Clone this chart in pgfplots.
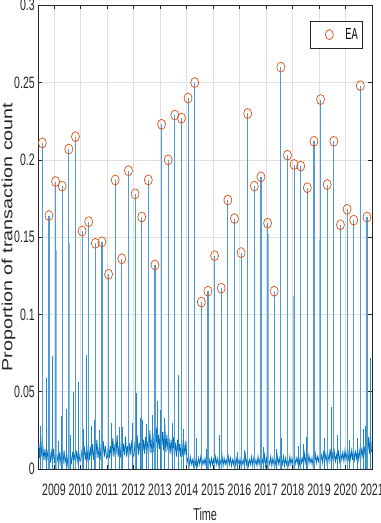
\documentclass[border=0pt]{standalone}
\usepackage{fontspec}
\setmainfont{Liberation Sans}
\newfontfamily\tickfont[FakeStretch=0.64]{Liberation Sans}
\newfontfamily\labfont[FakeStretch=0.63]{Liberation Sans}
\newfontfamily\ylfont[FakeStretch=1.335]{Liberation Sans}
\newfontfamily\legfont[FakeStretch=0.58]{Liberation Sans}
\usepackage{pgfplots}
\usepackage{pgfplotstable}
\pgfplotsset{compat=1.18}
\definecolor{mblue}{rgb}{0,0.447,0.741}
\definecolor{spkblue}{RGB}{80,156,212}
\definecolor{morange}{rgb}{0.85,0.325,0.098}
\definecolor{axgray}{rgb}{0.15,0.15,0.15}
\definecolor{gridgray}{RGB}{223,223,223}
\newcommand\tickf{\tickfont\fontsize{16.5bp}{18bp}\selectfont}

% daily share, coarse reading of the noisy base
\pgfplotstableread[row sep=\\]{
t v\\
2008.42 0.016\\ 2008.46 0.007\\ 2008.50 0.022\\ 2008.54 0.008\\ 2008.58 0.015\\ 2008.62 0.006\\ 2008.66 0.013\\ 2008.70 0.005\\
2008.74 0.012\\ 2008.78 0.005\\ 2008.82 0.014\\ 2008.86 0.004\\ 2008.90 0.011\\ 2008.94 0.005\\ 2008.98 0.013\\
2009.02 0.004\\ 2009.06 0.010\\ 2009.10 0.004\\ 2009.14 0.008\\ 2009.18 0.003\\ 2009.22 0.011\\ 2009.26 0.004\\ 2009.30 0.009\\
2009.34 0.003\\ 2009.38 0.012\\ 2009.42 0.004\\ 2009.46 0.008\\ 2009.50 0.003\\ 2009.54 0.010\\ 2009.58 0.004\\ 2009.62 0.009\\
2009.66 0.003\\ 2009.70 0.011\\ 2009.74 0.005\\ 2009.78 0.009\\ 2009.82 0.004\\ 2009.86 0.012\\ 2009.90 0.005\\ 2009.94 0.010\\ 2009.98 0.005\\
2010.02 0.006\\ 2010.06 0.013\\ 2010.10 0.005\\ 2010.14 0.015\\ 2010.18 0.006\\ 2010.22 0.012\\ 2010.26 0.007\\ 2010.30 0.017\\
2010.34 0.006\\ 2010.38 0.013\\ 2010.42 0.007\\ 2010.46 0.016\\ 2010.50 0.006\\ 2010.54 0.014\\ 2010.58 0.007\\ 2010.62 0.019\\
2010.66 0.007\\ 2010.70 0.013\\ 2010.74 0.006\\ 2010.78 0.016\\ 2010.82 0.007\\ 2010.86 0.018\\ 2010.90 0.008\\ 2010.94 0.015\\ 2010.98 0.007\\
2011.02 0.008\\ 2011.06 0.017\\ 2011.10 0.007\\ 2011.14 0.015\\ 2011.18 0.008\\ 2011.22 0.020\\ 2011.26 0.008\\ 2011.30 0.016\\
2011.34 0.009\\ 2011.38 0.022\\ 2011.42 0.008\\ 2011.46 0.015\\ 2011.50 0.007\\ 2011.54 0.018\\ 2011.58 0.008\\ 2011.62 0.016\\
2011.66 0.009\\ 2011.70 0.021\\ 2011.74 0.008\\ 2011.78 0.015\\ 2011.82 0.007\\ 2011.86 0.017\\ 2011.90 0.009\\ 2011.94 0.019\\ 2011.98 0.008\\
2012.02 0.009\\ 2012.06 0.018\\ 2012.10 0.008\\ 2012.14 0.022\\ 2012.18 0.009\\ 2012.22 0.017\\ 2012.26 0.010\\ 2012.30 0.024\\
2012.34 0.009\\ 2012.38 0.019\\ 2012.42 0.010\\ 2012.46 0.021\\ 2012.50 0.009\\ 2012.54 0.018\\ 2012.58 0.011\\ 2012.62 0.025\\
2012.66 0.010\\ 2012.70 0.020\\ 2012.74 0.011\\ 2012.78 0.023\\ 2012.82 0.012\\ 2012.86 0.027\\ 2012.90 0.011\\ 2012.94 0.022\\ 2012.98 0.013\\
2013.02 0.028\\ 2013.06 0.013\\ 2013.10 0.024\\ 2013.14 0.012\\ 2013.18 0.030\\ 2013.22 0.011\\ 2013.26 0.022\\ 2013.30 0.012\\
2013.34 0.020\\ 2013.38 0.010\\ 2013.42 0.019\\ 2013.46 0.009\\ 2013.50 0.021\\ 2013.54 0.009\\ 2013.58 0.017\\ 2013.62 0.008\\
2013.66 0.019\\ 2013.70 0.009\\ 2013.74 0.016\\ 2013.78 0.008\\ 2013.82 0.020\\ 2013.86 0.008\\ 2013.90 0.017\\ 2013.94 0.009\\ 2013.98 0.018\\
2014.02 0.004\\ 2014.06 0.007\\ 2014.10 0.002\\ 2014.14 0.008\\ 2014.18 0.003\\ 2014.22 0.006\\ 2014.26 0.002\\ 2014.30 0.009\\
2014.34 0.003\\ 2014.38 0.006\\ 2014.42 0.002\\ 2014.46 0.007\\ 2014.50 0.003\\ 2014.54 0.008\\ 2014.58 0.002\\ 2014.62 0.006\\
2014.66 0.003\\ 2014.70 0.007\\ 2014.74 0.002\\ 2014.78 0.009\\ 2014.82 0.003\\ 2014.86 0.006\\ 2014.90 0.002\\ 2014.94 0.007\\ 2014.98 0.003\\
2015.02 0.006\\ 2015.06 0.002\\ 2015.10 0.008\\ 2015.14 0.003\\ 2015.18 0.007\\ 2015.22 0.002\\ 2015.26 0.006\\ 2015.30 0.003\\
2015.34 0.009\\ 2015.38 0.002\\ 2015.42 0.007\\ 2015.46 0.003\\ 2015.50 0.006\\ 2015.54 0.002\\ 2015.58 0.008\\ 2015.62 0.003\\
2015.66 0.007\\ 2015.70 0.002\\ 2015.74 0.006\\ 2015.78 0.003\\ 2015.82 0.008\\ 2015.86 0.002\\ 2015.90 0.007\\ 2015.94 0.003\\ 2015.98 0.006\\
2016.02 0.002\\ 2016.06 0.007\\ 2016.10 0.003\\ 2016.14 0.006\\ 2016.18 0.002\\ 2016.22 0.009\\ 2016.26 0.003\\ 2016.30 0.007\\
2016.34 0.002\\ 2016.38 0.006\\ 2016.42 0.003\\ 2016.46 0.008\\ 2016.50 0.002\\ 2016.54 0.007\\ 2016.58 0.003\\ 2016.62 0.006\\
2016.66 0.002\\ 2016.70 0.008\\ 2016.74 0.003\\ 2016.78 0.007\\ 2016.82 0.002\\ 2016.86 0.006\\ 2016.90 0.003\\ 2016.94 0.009\\ 2016.98 0.002\\
2017.02 0.007\\ 2017.06 0.002\\ 2017.10 0.006\\ 2017.14 0.003\\ 2017.18 0.008\\ 2017.22 0.002\\ 2017.26 0.007\\ 2017.30 0.003\\
2017.34 0.006\\ 2017.38 0.002\\ 2017.42 0.009\\ 2017.46 0.003\\ 2017.50 0.007\\ 2017.54 0.002\\ 2017.58 0.006\\ 2017.62 0.003\\
2017.66 0.008\\ 2017.70 0.002\\ 2017.74 0.007\\ 2017.78 0.003\\ 2017.82 0.006\\ 2017.86 0.002\\ 2017.90 0.008\\ 2017.94 0.003\\ 2017.98 0.007\\
2018.02 0.003\\ 2018.06 0.008\\ 2018.10 0.003\\ 2018.14 0.007\\ 2018.18 0.004\\ 2018.22 0.009\\ 2018.26 0.003\\ 2018.30 0.008\\
2018.34 0.004\\ 2018.38 0.007\\ 2018.42 0.003\\ 2018.46 0.010\\ 2018.50 0.004\\ 2018.54 0.008\\ 2018.58 0.003\\ 2018.62 0.009\\
2018.66 0.004\\ 2018.70 0.007\\ 2018.74 0.003\\ 2018.78 0.008\\ 2018.82 0.004\\ 2018.86 0.010\\ 2018.90 0.004\\ 2018.94 0.008\\ 2018.98 0.005\\
2019.02 0.010\\ 2019.06 0.005\\ 2019.10 0.009\\ 2019.14 0.004\\ 2019.18 0.012\\ 2019.22 0.005\\ 2019.26 0.010\\ 2019.30 0.004\\
2019.34 0.009\\ 2019.38 0.005\\ 2019.42 0.013\\ 2019.46 0.005\\ 2019.50 0.010\\ 2019.54 0.004\\ 2019.58 0.011\\ 2019.62 0.005\\
2019.66 0.009\\ 2019.70 0.005\\ 2019.74 0.012\\ 2019.78 0.005\\ 2019.82 0.010\\ 2019.86 0.006\\ 2019.90 0.011\\ 2019.94 0.005\\ 2019.98 0.012\\
2020.02 0.006\\ 2020.06 0.011\\ 2020.10 0.005\\ 2020.14 0.013\\ 2020.18 0.006\\ 2020.22 0.012\\ 2020.26 0.006\\ 2020.30 0.014\\
2020.34 0.006\\ 2020.38 0.011\\ 2020.42 0.007\\ 2020.46 0.013\\ 2020.50 0.006\\ 2020.54 0.012\\ 2020.58 0.007\\ 2020.62 0.014\\
2020.66 0.007\\ 2020.70 0.015\\ 2020.74 0.008\\ 2020.78 0.017\\ 2020.82 0.009\\ 2020.86 0.021\\ 2020.90 0.010\\ 2020.94 0.023\\ 2020.98 0.011\\
}\basedata

% earnings-announcement days
\pgfplotstableread[row sep=\\]{
t v\\
2008.56 0.211\\ 2008.81 0.164\\ 2009.06 0.186\\ 2009.31 0.183\\ 2009.56 0.207\\
2009.81 0.215\\ 2010.06 0.154\\ 2010.31 0.160\\ 2010.56 0.146\\ 2010.81 0.147\\
2011.06 0.126\\ 2011.31 0.187\\ 2011.56 0.136\\ 2011.81 0.193\\ 2012.06 0.178\\
2012.31 0.163\\ 2012.56 0.187\\ 2012.81 0.132\\ 2013.06 0.223\\ 2013.31 0.200\\
2013.56 0.229\\ 2013.81 0.227\\ 2014.06 0.240\\ 2014.31 0.250\\ 2014.56 0.108\\
2014.81 0.115\\ 2015.06 0.138\\ 2015.31 0.117\\ 2015.56 0.174\\ 2015.81 0.162\\
2016.06 0.140\\ 2016.31 0.230\\ 2016.56 0.183\\ 2016.81 0.189\\ 2017.06 0.159\\
2017.31 0.115\\ 2017.56 0.260\\ 2017.81 0.203\\ 2018.06 0.197\\ 2018.31 0.196\\
2018.56 0.182\\ 2018.81 0.212\\ 2019.06 0.239\\ 2019.31 0.184\\ 2019.56 0.212\\
2019.81 0.158\\ 2020.06 0.168\\ 2020.31 0.161\\ 2020.56 0.248\\ 2020.81 0.163\\
}\eadata

% day after / before an announcement
\pgfplotstableread[row sep=\\]{
t v\\
2008.566 0.186\\ 2009.066 0.142\\ 2009.566 0.146\\ 2016.304 0.126\\ 2017.066 0.152\\
2017.816 0.113\\ 2018.066 0.112\\ 2019.040 0.148\\ 2019.816 0.128\\ 2020.566 0.116\\
}\nextday

% smaller bursts between announcements
\pgfplotstableread[row sep=\\]{
t v\\
2008.50 0.028\\ 2008.725 0.059\\ 2008.95 0.073\\ 2009.15 0.018\\ 2009.265 0.034\\
2009.45 0.039\\ 2009.62 0.022\\ 2009.73 0.050\\ 2009.92 0.056\\ 2010.10 0.026\\
2010.23 0.074\\ 2010.40 0.028\\ 2010.54 0.032\\ 2010.70 0.025\\ 2010.81 0.076\\
2011.065 0.040\\ 2011.18 0.030\\ 2011.31 0.048\\ 2011.45 0.027\\ 2011.59 0.027\\
2011.80 0.036\\ 2011.95 0.030\\ 2012.12 0.049\\ 2012.245 0.033\\ 2012.35 0.032\\
2012.50 0.029\\ 2012.70 0.035\\ 2012.81 0.047\\ 2012.90 0.044\\ 2013.00 0.038\\
2013.15 0.033\\ 2013.45 0.030\\ 2013.69 0.061\\ 2013.79 0.058\\ 2013.90 0.026\\
2014.385 0.020\\ 2014.57 0.034\\ 2014.76 0.013\\ 2015.23 0.022\\ 2015.55 0.012\\
2015.92 0.011\\ 2016.20 0.012\\ 2016.55 0.040\\ 2016.90 0.014\\ 2017.40 0.013\\
2017.58 0.020\\ 2018.21 0.015\\ 2018.40 0.016\\ 2018.52 0.021\\ 2018.77 0.023\\
2019.20 0.020\\ 2019.465 0.040\\ 2019.70 0.022\\ 2020.15 0.019\\ 2020.28 0.023\\
2020.45 0.020\\ 2020.66 0.026\\ 2020.75 0.028\\ 2020.94 0.072\\
}\bursts

\begin{document}
\begin{tikzpicture}
\useasboundingbox (-38.3bp,-54bp) rectangle (342.7bp,469bp);
\begin{axis}[
  at={(0bp,0bp)}, anchor=south west,
  scale only axis, width=333.7bp, height=463.7bp,
  xmin=2008.408, xmax=2021, ymin=0, ymax=0.3,
  xtick={2009,2010,...,2021},
  xticklabels={2009,2010,2011,2012,2013,2014,2015,2016,2017,2018,2019,2020,2021},
  ytick={0,0.05,0.1,0.15,0.2,0.25,0.3},
  yticklabels={0,0.05,0.1,0.15,0.2,0.25,\raisebox{-3.4bp}{0.3}},
  tick align=inside, major tick length=4bp,
  tick style={axgray, line width=0.5bp},
  axis line style={axgray, line width=0.6bp},
  grid=major, major grid style={gridgray, line width=0.5bp},
  xticklabel style={font=\tickf, text=axgray, anchor=north, inner sep=0pt, yshift=-15bp},
  yticklabel style={font=\tickf, text=axgray, anchor=east, inner sep=0pt, xshift=-3.3bp},
  xlabel={Time},
  xlabel style={font=\labfont\fontsize{17.2bp}{19bp}\selectfont, text=axgray,
    at={(axis description cs:0.5,0)}, anchor=north, inner sep=0pt, yshift=-38.7bp},
  ylabel={Proportion of transaction count},
  ylabel style={font=\ylfont\fontsize{14.8bp}{16bp}\selectfont, text=axgray,
    at={(axis description cs:-0.0779,0.5)}, anchor=base, inner sep=0pt},
  legend style={at={(axis description cs:0.973,0.966)}, anchor=north east,
    draw=axgray, line width=0.5bp, font=\legfont\fontsize{16bp}{18bp}\selectfont,
    inner xsep=3bp, inner ysep=5bp},
  legend image code/.code={\path[draw=none, fill=none] (0bp,0bp) -- (30bp,0bp);
    \draw[#1] plot coordinates {(16bp,0bp)};},
]
\addplot[mblue, line width=0.8bp, forget plot] table[x=t, y=v] {\basedata};
\addplot[ycomb, mblue!85, line width=0.7bp, forget plot] table[x=t, y=v] {\bursts};
\addplot[ycomb, mblue!45, line width=1.6bp, forget plot] table[x=t, y=v] {\nextday};
\addplot[ycomb, spkblue, line width=1.1bp, forget plot] table[x=t, y=v] {\eadata};
\addplot[only marks, mark=o, mark size=5bp,
  mark options={draw=morange, line width=0.7bp, xscale=0.8}] table[x=t, y=v] {\eadata};
\addlegendentry{EA}
\end{axis}
\end{tikzpicture}
\end{document}
